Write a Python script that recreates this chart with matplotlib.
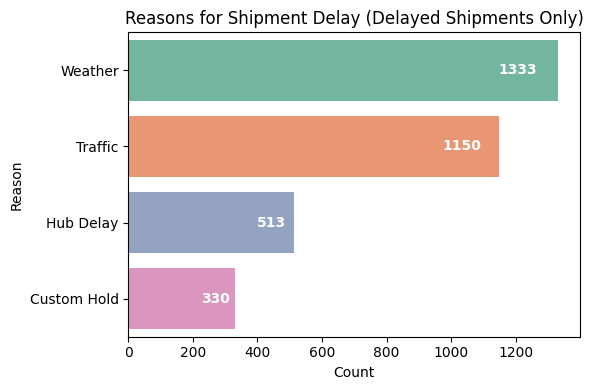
import matplotlib
matplotlib.use("Agg")
import matplotlib.pyplot as plt
import seaborn as sns
import pandas as pd

reasons = ["Weather", "Traffic", "Hub Delay", "Custom Hold"]
counts = [1333, 1150, 513, 330]

df = pd.DataFrame({"Reason": reasons, "Count": counts})

fig, ax = plt.subplots(figsize=(6, 4), dpi=100)
sns.barplot(data=df, y="Reason", x="Count", hue="Reason", palette="Set2",
            legend=False, ax=ax, orient="h")
for i, c in enumerate(counts):
    ax.text(c * 0.95, i, str(c), ha="right", va="center", color="white",
            fontweight="bold", fontsize=10)
ax.set_title("Reasons for Shipment Delay (Delayed Shipments Only)")
ax.set_xlabel("Count")
ax.set_ylabel("Reason")
fig.tight_layout()
fig.savefig("out.png", dpi=100, bbox_inches="tight")
